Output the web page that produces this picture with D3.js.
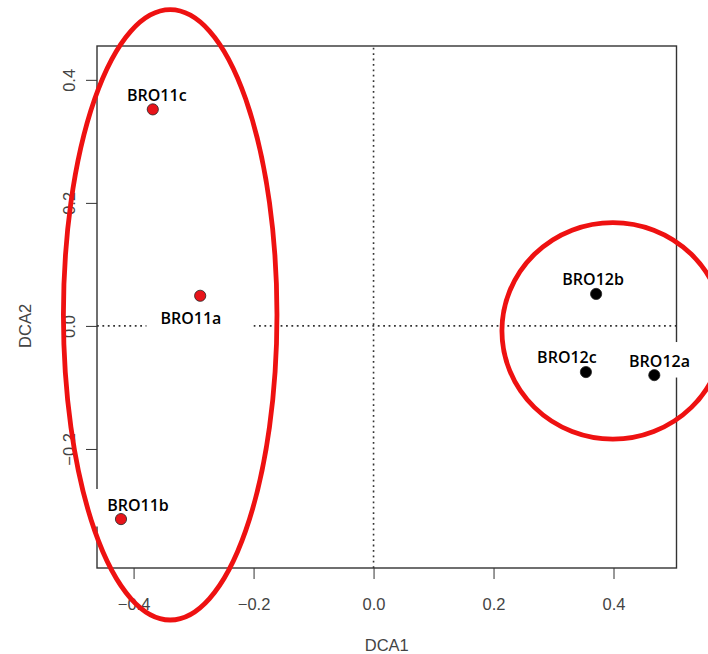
<!DOCTYPE html>
<html><head><meta charset="utf-8">
<script src="https://cdn.jsdelivr.net/npm/d3@7"></script>
<style>html,body{margin:0;padding:0;background:#fff;}svg{display:block;}</style>
</head><body>
<svg id="c" width="708" height="654"></svg>
<script>
// ---- data ----
const sites = ["BRO11c","BRO11a","BRO11b","BRO12b","BRO12c","BRO12a"];
const dca1  = [-0.368, -0.289, -0.421, 0.371, 0.354, 0.468];
const dca2  = [ 0.352,  0.049, -0.314, 0.052, -0.075, -0.080];
const group = ["BRO11","BRO11","BRO11","BRO12","BRO12","BRO12"];
const xTicks = [-0.4, -0.2, 0.0, 0.2, 0.4];
const yTicks = [-0.2, 0.0, 0.2, 0.4];
// group outlines (data units): centre x, centre y, radius x, radius y
const hullNames = ["BRO11","BRO12"];
const hullCx = [-0.339, 0.399];
const hullCy = [0.018, -0.008];
const hullRx = [0.178, 0.185];
const hullRy = [0.496, 0.176];

// ---- style ----
const labelOff = [[4,-8.6],[-9.3,28.3],[17,-7.6],[-3,-9.3],[-19,-9],[5.2,-8.6]];
const labelPad = [[2,2,2,2],[14,32,4,7],[13,2,11,15],[2,2,2,2],[2,2,2,2],[3,3,13,11]];
const fill = {BRO11:"#e8141a", BRO12:"#000"};

const svg = d3.select("#c");
const m = {l:97, t:46, r:708-676.5, b:654-568};
const W = 708, H = 654;
const x = d3.scaleLinear().domain([-0.461, 0.505]).range([m.l, W-m.r]);
const y = d3.scaleLinear().domain([-0.3935, 0.455]).range([H-m.b, m.t]);

// axes
const ax = svg.append("g").attr("transform",`translate(0,${H-m.b})`)
  .call(d3.axisBottom(x).tickValues(xTicks).tickFormat(d3.format(".1f")).tickSize(11).tickSizeOuter(0));
ax.select(".domain").remove();
ax.selectAll("line").attr("stroke","#333");
ax.selectAll("text").attr("font-family","Liberation Sans, Arial, sans-serif").attr("font-size",16.5)
  .attr("fill","#444").attr("dy",0).attr("y",42);

const ay = svg.append("g").attr("transform",`translate(${m.l},0)`)
  .call(d3.axisLeft(y).tickValues(yTicks).tickFormat(d3.format(".1f")).tickSize(11).tickSizeOuter(0));
ay.select(".domain").remove();
ay.selectAll("line").attr("stroke","#333");
ay.selectAll("text").attr("font-family","Liberation Sans, Arial, sans-serif").attr("font-size",16.5)
  .attr("fill","#444").attr("x",0).attr("dy",0).attr("text-anchor","middle")
  .attr("transform","translate(-22,0) rotate(-90)");

// dotted zero lines
svg.append("line").attr("x1",x.range()[0]).attr("x2",x.range()[1]).attr("y1",y(0)).attr("y2",y(0))
  .attr("stroke","#333").attr("stroke-width",1.6).attr("stroke-dasharray","1.8,3.6");
svg.append("line").attr("x1",x(0)).attr("x2",x(0)).attr("y1",y.range()[0]).attr("y2",y.range()[1])
  .attr("stroke","#333").attr("stroke-width",1.6).attr("stroke-dasharray","1.8,3.6");

// frame
svg.append("rect").attr("x",x.range()[0]).attr("y",y.range()[1])
  .attr("width",x.range()[1]-x.range()[0]).attr("height",y.range()[0]-y.range()[1])
  .attr("fill","none").attr("stroke","#333").attr("stroke-width",1.4);

const pts = sites.map((s,i)=>({s, x:dca1[i], y:dca2[i], g:group[i], off:labelOff[i], pad:labelPad[i]}));

// label backgrounds (white), then points, then label text
const bg = svg.append("g");
const pg = svg.append("g");
const lg = svg.append("g");
pts.forEach(d=>{
  const t = lg.append("text").attr("x",x(d.x)+d.off[0]).attr("y",y(d.y)+d.off[1])
    .attr("text-anchor","middle").attr("font-family","Open Sans, Noto Sans, sans-serif")
    .attr("font-size",16).attr("font-weight",600).attr("fill","#000").text(d.s);
  const b = t.node().getBBox();
  const capTop = y(d.y)+d.off[1] - 11.5, base = y(d.y)+d.off[1];
  bg.append("rect").attr("x",b.x-d.pad[0]).attr("y",capTop-d.pad[2])
    .attr("width",b.width+d.pad[0]+d.pad[1]).attr("height",base-capTop+d.pad[2]+d.pad[3]).attr("fill","#fff");
});
pg.selectAll("circle").data(pts).join("circle")
  .attr("cx",d=>x(d.x)).attr("cy",d=>y(d.y)).attr("r",5.6)
  .attr("fill",d=>fill[d.g]).attr("stroke","#222").attr("stroke-width",0.8);

// axis titles
svg.append("text").attr("x",(x.range()[0]+x.range()[1])/2).attr("y",651).attr("text-anchor","middle")
  .attr("font-family","Liberation Sans, Arial, sans-serif").attr("font-size",16.5).attr("fill","#444").text("DCA1");
svg.append("text").attr("transform",`translate(31,${y(0)}) rotate(-90)`).attr("text-anchor","middle")
  .attr("font-family","Liberation Sans, Arial, sans-serif").attr("font-size",16.5).attr("fill","#444").text("DCA2");

// red group outlines
svg.append("g").selectAll("ellipse").data(hullNames).join("ellipse")
  .attr("cx",(d,i)=>x(hullCx[i])).attr("cy",(d,i)=>y(hullCy[i]))
  .attr("rx",(d,i)=>x(hullRx[i])-x(0)).attr("ry",(d,i)=>y(0)-y(hullRy[i]))
  .attr("fill","none").attr("stroke","#ee1111").attr("stroke-width",4.8);
</script>
</body></html>
